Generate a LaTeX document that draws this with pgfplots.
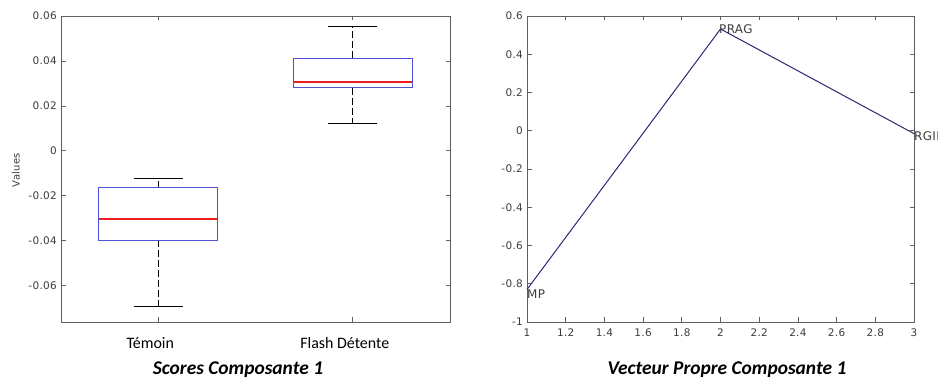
\documentclass[border=0pt]{standalone}
\usepackage{pgfplots}
\pgfplotsset{compat=1.18}
\usepackage{fontspec}
\setmainfont{DejaVu Sans}
\newfontfamily\calfont{Carlito}
\newfontfamily\tickfont{DejaVu Sans}[LetterSpace=3]

\definecolor{axgray}{RGB}{95,95,95}
\definecolor{txtgray}{RGB}{60,60,60}
\definecolor{boxblue}{RGB}{80,80,210}
\definecolor{medred}{RGB}{240,30,30}
\definecolor{navy}{RGB}{40,40,115}

% Vecteur propre composante 1
\pgfplotstableread{
x y
1 -0.83
2 0.532
3 -0.015
}\vecdata

\begin{document}
\begin{tikzpicture}
\useasboundingbox (0,0) rectangle (938bp,379bp);
\pgfplotsset{
  matlab/.style={
    scale only axis,
    anchor=south west,
    axis line style={axgray, line width=0.9bp},
    every tick/.style={axgray, line width=0.7bp},
    major tick length=4.5bp,
    tick align=inside,
    tick pos=both,
    tick label style={font=\tickfont\fontsize{10.5}{12}\selectfont, text=txtgray},
    /pgf/number format/assume math mode=true,
    /pgf/number format/fixed,
    yticklabel style={anchor=east, inner sep=0pt, xshift=-4bp},
    scaled ticks=false,
  },
  bx/.style={boxblue, line width=1bp},
  md/.style={medred, line width=1.4bp},
  wk/.style={black, line width=0.9bp, dash pattern=on 7bp off 3bp},
  cap/.style={black, line width=0.9bp},
}

% Scores composante 1 (box half width 0.305, cap half width 0.125)
\begin{axis}[matlab,
  at={(61bp,57bp)}, width=389bp, height=306bp,
  xmin=0.5, xmax=2.5, ymin=-0.0762, ymax=0.06,
  xtick={1,2}, xticklabels={Témoin, Flash Détente},
  xticklabel style={font=\calfont\fontsize{16}{18}\selectfont, text=black,
    anchor=base, yshift=-26bp, xshift=-8bp},
  ytick={-0.06,-0.04,-0.02,0,0.02,0.04,0.06},
  yticklabel style={/pgf/number format/precision=2},
  ]
  % Temoin
  \addplot[wk] coordinates {(1,-0.0399) (1,-0.0695)};
  \addplot[wk] coordinates {(1,-0.0165) (1,-0.0121)};
  \addplot[cap] coordinates {(0.875,-0.0695) (1.125,-0.0695)};
  \addplot[cap] coordinates {(0.875,-0.0121) (1.125,-0.0121)};
  \addplot[bx] coordinates {(0.695,-0.0399) (1.305,-0.0399) (1.305,-0.0165) (0.695,-0.0165)} -- cycle;
  \addplot[md] coordinates {(0.695,-0.0304) (1.305,-0.0304)};
  % Flash Detente
  \addplot[wk] coordinates {(2,0.028) (2,0.0123)};
  \addplot[wk] coordinates {(2,0.0412) (2,0.0552)};
  \addplot[cap] coordinates {(1.875,0.0123) (2.125,0.0123)};
  \addplot[cap] coordinates {(1.875,0.0552) (2.125,0.0552)};
  \addplot[bx] coordinates {(1.695,0.028) (2.305,0.028) (2.305,0.0412) (1.695,0.0412)} -- cycle;
  \addplot[md] coordinates {(1.695,0.0307) (2.305,0.0307)};
\end{axis}
\node[rotate=90, font=\tickfont\fontsize{10}{12}\selectfont, text=txtgray]
  at (16bp,209bp) {Values};

% Vecteur propre composante 1
\begin{axis}[matlab,
  at={(527bp,57bp)}, width=387bp, height=306bp,
  xmin=1, xmax=3, ymin=-1, ymax=0.6,
  xtick={1,1.2,...,3.01}, ytick={-1,-0.8,...,0.61},
  xticklabel style={anchor=base, yshift=-14.5bp},
  tick label style={/pgf/number format/precision=1},
  clip=false,
  ]
  \addplot[navy, line width=1bp] table[x=x, y=y] {\vecdata};
  \node[anchor=west, inner sep=0pt, xshift=-1.5bp, text=txtgray,
    font=\tickfont\fontsize{12}{14}\selectfont] at (axis cs:2,0.532) {PRAG};
  \node[anchor=west, inner sep=0pt, yshift=-3bp, text=txtgray,
    font=\tickfont\fontsize{12}{14}\selectfont] at (axis cs:3,-0.015) {RGII};
  \node[anchor=west, inner sep=0pt, yshift=-5bp, text=txtgray,
    font=\tickfont\fontsize{12}{14}\selectfont] at (axis cs:1,-0.83) {MP};
\end{axis}

\node[anchor=base, font=\calfont\bfseries\itshape\fontsize{19.5}{21}\selectfont]
  at (238bp,5bp) {Scores Composante 1};
\node[anchor=base, font=\calfont\bfseries\itshape\fontsize{19.5}{21}\selectfont]
  at (727bp,5bp) {Vecteur Propre Composante 1};
\end{tikzpicture}
\end{document}
